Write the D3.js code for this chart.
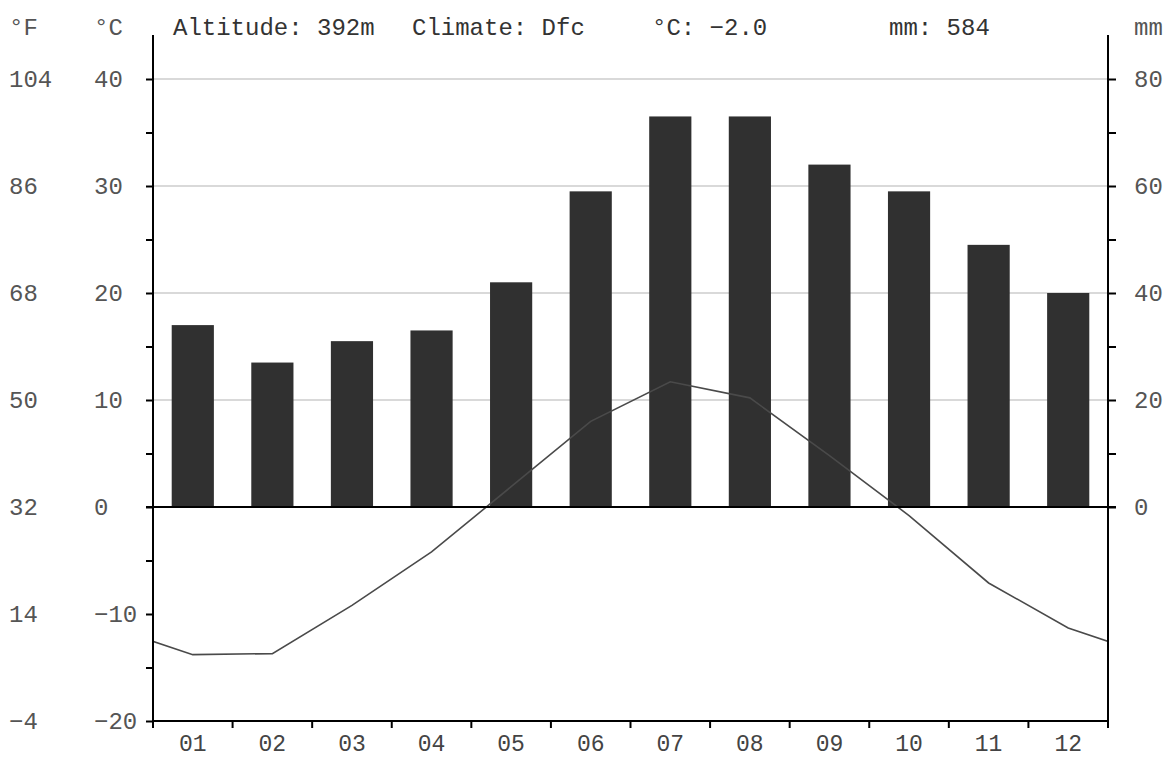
<!DOCTYPE html>
<html>
<head>
<meta charset="utf-8">
<script src="https://cdn.jsdelivr.net/npm/d3@7"></script>
<style>
  html, body { margin: 0; padding: 0; background: #fff; }
  svg { display: block; }
  text { font-family: "Liberation Mono", "DejaVu Sans Mono", monospace; font-size: 24px; }
</style>
</head>
<body>
<svg id="chart" width="1176" height="758"></svg>
<script>
// ---- data ----
const months = ["01","02","03","04","05","06","07","08","09","10","11","12"];
const precipitation = [34, 27, 31, 33, 42, 59, 73, 73, 64, 59, 49, 40];      // mm
const temperature = [-13.8, -13.7, -9.2, -4.2, 1.9, 8.0, 11.7, 10.2, 4.8, -0.8, -7.1, -11.3]; // °C
const tempTicksC = [-20, -10, 0, 10, 20, 30, 40];
const tempTicksF = ["-4", "14", "32", "50", "68", "86", "104"];
const precipTicks = [0, 20, 40, 60, 80];
const headerTexts = ["Altitude: 392m", "Climate: Dfc", "°C: -2.0", "mm: 584"];

(function () {
// ---- layout ----
const plotL = 153, plotR = 1108, plotT = 35, plotB = 721;
const svg = d3.select("#chart");

const x = d3.scaleBand().domain(months).range([plotL, plotR])
  .paddingInner(0.47).paddingOuter(0.235);
const xi = d3.scaleLinear().domain([0, 12]).range([plotL, plotR]);
const yT = d3.scaleLinear().domain([-20, 40]).range([plotB, 79]);
const yP = d3.scaleLinear().domain([0, 80]).range([yT(0), yT(40)]);

// gridlines
svg.append("g").selectAll("line").data([10, 20, 30, 40]).join("line")
  .attr("x1", plotL).attr("x2", plotR)
  .attr("y1", d => yT(d)).attr("y2", d => yT(d))
  .attr("stroke", "#cccccc").attr("stroke-width", 1.5);

// bars
svg.append("g").selectAll("rect").data(precipitation).join("rect")
  .attr("x", (d, i) => x(months[i]))
  .attr("width", x.bandwidth())
  .attr("y", d => yP(d))
  .attr("height", d => yP(0) - yP(d))
  .attr("fill", "#303030");

// temperature line (wrapping Dec/Jan so it reaches the frame, clipped)
svg.append("clipPath").attr("id", "plotclip").append("rect")
  .attr("x", plotL).attr("y", plotT).attr("width", plotR - plotL).attr("height", plotB - plotT);
const linePts = [[-1, temperature[11]]]
  .concat(temperature.map((t, i) => [i, t]))
  .concat([[12, temperature[0]]]);
svg.append("path")
  .datum(linePts)
  .attr("clip-path", "url(#plotclip)")
  .attr("fill", "none")
  .attr("stroke", "#4a4a4a")
  .attr("stroke-width", 1.6)
  .attr("d", d3.line().x(d => xi(d[0] + 0.5)).y(d => yT(d[1])));

// zero line
svg.append("line")
  .attr("x1", plotL - 7).attr("x2", plotR + 8)
  .attr("y1", yT(0)).attr("y2", yT(0))
  .attr("stroke", "#000").attr("stroke-width", 2);

// left axis
const leftAxis = d3.axisLeft(yT).tickValues(d3.range(-20, 41, 5)).tickSize(7).tickFormat("");
const gl = svg.append("g").attr("transform", `translate(${plotL},0)`).call(leftAxis);
gl.select(".domain").remove();
gl.selectAll(".tick line").attr("stroke", "#000").attr("stroke-width", 2);
svg.append("line").attr("x1", plotL).attr("x2", plotL).attr("y1", plotT).attr("y2", plotB + 7)
  .attr("stroke", "#000").attr("stroke-width", 2);

// right axis
const rightAxis = d3.axisRight(yP).tickValues(d3.range(0, 81, 10)).tickSize(8).tickFormat("");
const gr = svg.append("g").attr("transform", `translate(${plotR},0)`).call(rightAxis);
gr.select(".domain").remove();
gr.selectAll(".tick line").attr("stroke", "#000").attr("stroke-width", 2);
svg.append("line").attr("x1", plotR).attr("x2", plotR).attr("y1", plotT).attr("y2", plotB + 7)
  .attr("stroke", "#000").attr("stroke-width", 2);

// bottom axis
svg.append("line").attr("x1", plotL).attr("x2", plotR).attr("y1", plotB).attr("y2", plotB)
  .attr("stroke", "#000").attr("stroke-width", 2);
svg.append("g").selectAll("line").data(d3.range(0, 13)).join("line")
  .attr("x1", d => xi(d)).attr("x2", d => xi(d))
  .attr("y1", plotB).attr("y2", plotB + 7)
  .attr("stroke", "#000").attr("stroke-width", 2);

// month labels
svg.append("g").selectAll("text").data(months).join("text")
  .attr("x", d => x(d) + x.bandwidth() / 2)
  .attr("y", 751)
  .style("font-size", "23px")
  .attr("text-anchor", "middle").attr("fill", "#444")
  .text(d => d);

// °C labels
svg.append("g").selectAll("text").data(tempTicksC).join("text")
  .attr("x", 94).attr("y", d => yT(d)).attr("dy", "0.35em")
  .attr("fill", "#555").text(d => d < 0 ? "−" + Math.abs(d) : d);

// °F labels
svg.append("g").selectAll("text").data(tempTicksF).join("text")
  .attr("x", 9).attr("y", (d, i) => yT(tempTicksC[i])).attr("dy", "0.35em")
  .attr("fill", "#555").text(d => d.replace("-", "−"));

// mm labels
svg.append("g").selectAll("text").data(precipTicks).join("text")
  .attr("x", 1134).attr("y", d => yP(d)).attr("dy", "0.35em")
  .attr("fill", "#555").text(d => d);

// headers
svg.append("text").attr("x", 9).attr("y", 35).attr("fill", "#555").text("°F");
svg.append("text").attr("x", 94).attr("y", 35).attr("fill", "#555").text("°C");
svg.append("text").attr("x", 1134).attr("y", 35).attr("fill", "#555").text("mm");
const headerX = [173, 412, 652, 889];
svg.append("g").selectAll("text").data(headerTexts).join("text")
  .attr("x", (d, i) => headerX[i]).attr("y", 35)
  .attr("fill", "#333").text(d => d.replace("-", "−"));
})();
</script>
</body>
</html>
